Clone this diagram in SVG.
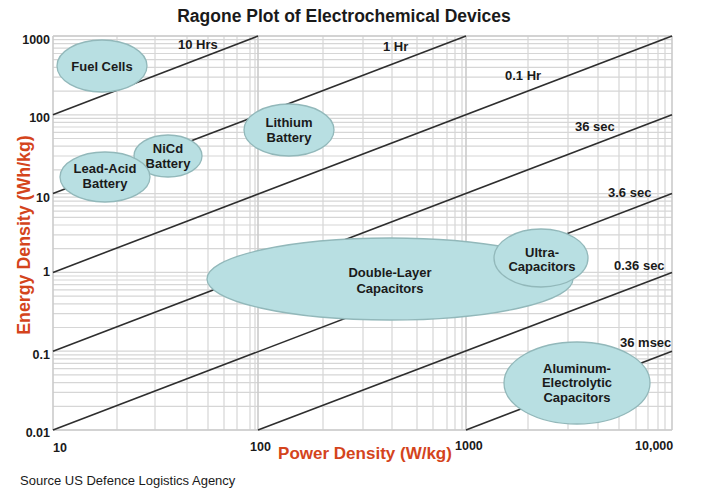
<svg xmlns="http://www.w3.org/2000/svg" xmlns:xlink="http://www.w3.org/1999/xlink" width="703" height="496" viewBox="0 0 703 496">
<style>
.grid{stroke:#d6d6d6;stroke-width:1.2;fill:none}
.gridd{stroke:#cbcbcb;stroke-width:1.6;fill:none}
.ln{stroke:#2e2e2e;stroke-width:1.6;fill:none}
.blob{fill:#b8dfe2;stroke:#92b8ba;stroke-width:1.3}
text{font-family:"Liberation Sans",Arial,sans-serif;fill:#1a1a1a}
.lbl{font-size:13px;font-weight:bold;text-anchor:middle}
.tk{font-size:12.5px;font-weight:bold}
.ll{font-size:13px;font-weight:bold}
.ax{font-size:17px;font-weight:bold;fill:#d4441c;text-anchor:middle}
</style>
<defs>
<path id="hd" d="M53 0H672M53-23.7H672M53-37.6H672M53-47.4H672M53-55.1H672M53-61.3H672M53-66.6H672M53-71.2H672M53-75.2H672"/>
</defs>
<rect width="703" height="496" fill="#fff"/>
<text x="344" y="21.5" style="font-size:17.5px;font-weight:bold;text-anchor:middle">Ragone Plot of Electrochemical Devices</text>
<g id="grid">
<g class="grid">
<use xlink:href="#hd" href="#hd" transform="translate(0,430)"/>
<use xlink:href="#hd" href="#hd" transform="translate(0,351.2)"/>
<use xlink:href="#hd" href="#hd" transform="translate(0,272.4)"/>
<use xlink:href="#hd" href="#hd" transform="translate(0,193.6)"/>
<use xlink:href="#hd" href="#hd" transform="translate(0,114.8)"/>
<path d="M53 36H672"/>
<path d="M117 36V430M155 36V430M187 36V430M208 36V430M224 36V430M237 36V430M250 36V430M255 36V430M323 36V430M363 36V430M392 36V430M417 36V430M433 36V430M447 36V430M455 36V430M462 36V430M528 36V430M568 36V430M598 36V430M619 36V430M636 36V430M648 36V430M658 36V430M665 36V430"/>
</g>
<path class="gridd" d="M53 36V430M258 36V430M466 36V430M672 36V430M53 430H672M53 36H672"/>
</g>
<g id="connectors">
<path class="ln" d="M53 114.8L258 36"/>
<path class="ln" d="M53 193.6L466 36"/>
<path class="ln" d="M53 272.4L672 36"/>
<path class="ln" d="M53 351.2L672 114.8"/>
<path class="ln" d="M53 430L672 193.6"/>
<path class="ln" d="M258 430L672 272.4"/>
<path class="ln" d="M466 430L672 351.2"/>
</g>
<g id="line-labels">
<text class="ll" x="178" y="49">10 Hrs</text>
<text class="ll" x="383" y="51">1 Hr</text>
<text class="ll" x="505" y="80">0.1 Hr</text>
<text class="ll" x="575" y="131">36 sec</text>
<text class="ll" x="608" y="197">3.6 sec</text>
<text class="ll" x="614" y="270">0.36 sec</text>
<text class="ll" x="620" y="347">36 msec</text>
</g>
<g id="fuel-cells">
<ellipse class="blob" cx="102" cy="66" rx="45" ry="26"/>
<text class="lbl" x="102" y="70.5">Fuel Cells</text>
</g>
<g id="nicd">
<ellipse class="blob" cx="168" cy="156" rx="34" ry="21"/>
<text class="lbl" x="168" y="152.5">NiCd</text>
<text class="lbl" x="168" y="168">Battery</text>
</g>
<g id="lead-acid">
<ellipse class="blob" cx="105" cy="177" rx="45" ry="25"/>
<text class="lbl" x="105" y="172.5">Lead-Acid</text>
<text class="lbl" x="105" y="188">Battery</text>
</g>
<g id="lithium">
<ellipse class="blob" cx="289" cy="130" rx="45" ry="26"/>
<text class="lbl" x="289" y="126.5">Lithium</text>
<text class="lbl" x="289" y="142">Battery</text>
</g>
<g id="double-layer">
<ellipse class="blob" cx="390" cy="279" rx="183" ry="41"/>
<text class="lbl" x="390" y="276.5">Double-Layer</text>
<text class="lbl" x="390" y="292.5">Capacitors</text>
</g>
<g id="ultra">
<ellipse class="blob" cx="541" cy="258" rx="47" ry="29"/>
<text class="lbl" x="542" y="256.5">Ultra-</text>
<text class="lbl" x="542" y="271">Capacitors</text>
</g>
<g id="aluminum">
<ellipse class="blob" cx="577" cy="383" rx="73" ry="41"/>
<text class="lbl" x="577" y="372.5">Aluminum-</text>
<text class="lbl" x="577" y="387">Electrolytic</text>
<text class="lbl" x="577" y="401.5">Capacitors</text>
</g>
<g id="y-ticks" style="text-anchor:end">
<text class="tk" x="50" y="43.5">1000</text>
<text class="tk" x="50" y="122">100</text>
<text class="tk" x="50" y="201.5">10</text>
<text class="tk" x="50" y="275.5">1</text>
<text class="tk" x="50" y="359">0.1</text>
<text class="tk" x="50" y="437">0.01</text>
</g>
<g id="x-ticks">
<text class="tk" x="53" y="451.5">10</text>
<text class="tk" x="250" y="451">100</text>
<text class="tk" x="455" y="450">1000</text>
<text class="tk" x="635" y="450">10,000</text>
</g>
<text class="ax" transform="translate(29.5,235) rotate(-90)" style="font-size:17.8px">Energy Density (Wh/kg)</text>
<text class="ax" x="365" y="459">Power Density (W/kg)</text>
<text x="20" y="485" style="font-size:13px">Source US Defence Logistics Agency</text>
</svg>
